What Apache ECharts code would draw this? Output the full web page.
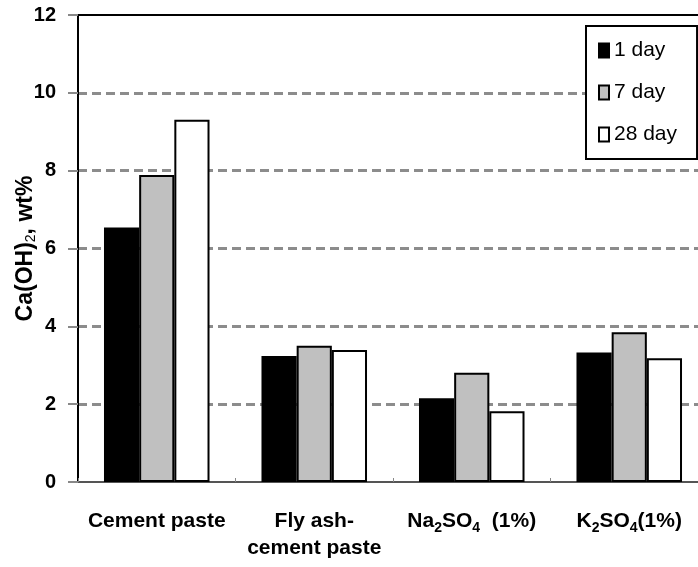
<!DOCTYPE html>
<html>
<head>
<meta charset="utf-8">
<script src="https://cdn.jsdelivr.net/npm/echarts@6/dist/echarts.min.js"></script>
<style>
  html, body { margin: 0; padding: 0; background: #fff; }
  #chart { width: 698px; height: 567px; }
</style>
</head>
<body>
<div id="chart"></div>
<script>
// categories (rich markup for the subscripts)
const categories = [
  'Cement paste',
  'Fly ash-\ncement paste',
  '{b|Na}{sub|2}{b|SO}{sub|4}{b|  (1%)}',
  '{b|K}{sub|2}{b|SO}{sub|4}{b|(1%)}'
]
const day1 = [6.54, 3.24, 2.15, 3.33]
const day7 = [7.89, 3.50, 2.81, 3.85]
const day28 = [9.31, 3.39, 1.82, 3.18]
const seriesNames = ['1 day', '7 day', '28 day']

var chartDom = document.getElementById('chart');
var myChart = echarts.init(chartDom);
var option;

const font = 'Liberation Sans, Arial, sans-serif'

function barSeries(name, values, color) {
  return {
    name: name,
    type: 'bar',
    data: values,
    barGap: '0%',
    barCategoryGap: '33%',
    itemStyle: { color: color, borderColor: '#000', borderWidth: 2 }
  }
}

option = {
  animation: false,
  backgroundColor: '#fff',
  textStyle: { fontFamily: font },
  grid: {
    left: 78,
    top: 15,
    right: -10,
    bottom: 85,
    outerBoundsMode: 'none',
    show: true,
    borderColor: '#000',
    borderWidth: 2,
    backgroundColor: 'transparent'
  },
  legend: {
    orient: 'vertical',
    left: 586,
    top: 26,
    padding: [14, 20, 14, 12],
    icon: 'rect',
    itemWidth: 10,
    itemHeight: 14,
    itemGap: 21,
    backgroundColor: '#fff',
    borderColor: '#000',
    borderWidth: 2,
    textStyle: { fontSize: 21, color: '#000', fontFamily: font },
    data: seriesNames
  },
  xAxis: {
    type: 'category',
    data: categories,
    axisLine: { lineStyle: { color: '#555', width: 2 } },
    axisTick: { show: true, inside: true, length: 4, lineStyle: { color: '#888', width: 1 } },
    axisLabel: {
      interval: 0,
      margin: 26,
      fontSize: 21,
      fontWeight: 'bold',
      color: '#000',
      lineHeight: 27,
      fontFamily: font,
      rich: {
        b: { fontSize: 21, fontWeight: 'bold', color: '#000', fontFamily: font },
        sub: { fontSize: 14, fontWeight: 'bold', color: '#000', fontFamily: font, verticalAlign: 'bottom', padding: [10, 0, 0, 0] }
      }
    }
  },
  yAxis: {
    type: 'value',
    min: 0,
    max: 12,
    interval: 2,
    name: '{b|Ca(OH)}{sub|2}{b|, wt%}',
    nameLocation: 'middle',
    nameGap: 40,
    nameMoveOverlap: false,
    nameRotate: 90,
    nameTextStyle: {
      rich: {
        b: { fontSize: 23, fontWeight: 'bold', color: '#000', fontFamily: font },
        sub: { fontSize: 14, color: '#000', fontFamily: font, verticalAlign: 'bottom', padding: [10, 0, 0, 0] }
      }
    },
    axisLine: { show: true, lineStyle: { color: '#000', width: 2 } },
    axisTick: { show: true, length: 10, lineStyle: { color: '#888', width: 2 } },
    axisLabel: { margin: 22, fontSize: 20, fontWeight: 'bold', color: '#000', fontFamily: font },
    splitLine: { showMaxLine: false, showMinLine: false, lineStyle: { color: '#8c8c8c', width: 3, type: [9, 5] } }
  },
  series: [
    barSeries(seriesNames[0], day1, '#000'),
    barSeries(seriesNames[1], day7, '#c0c0c0'),
    barSeries(seriesNames[2], day28, '#fff')
  ]
};

option && myChart.setOption(option);
</script>
</body>
</html>
